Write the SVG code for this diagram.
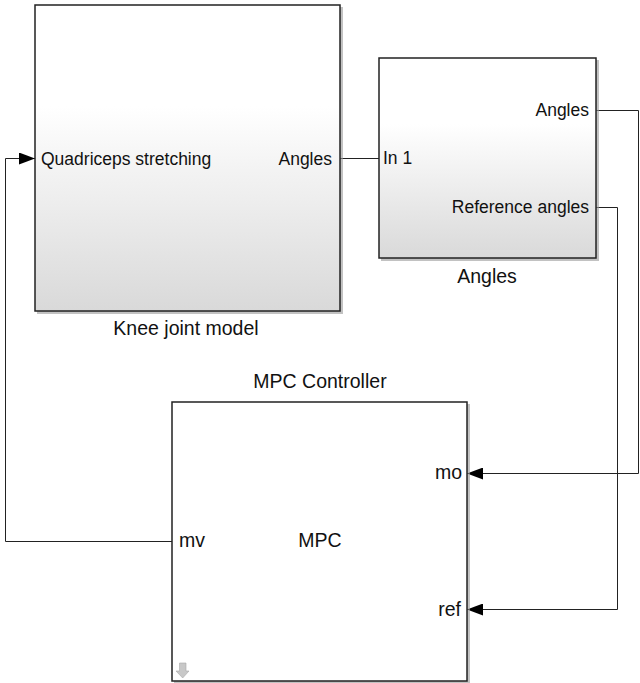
<svg xmlns="http://www.w3.org/2000/svg" width="640" height="683" viewBox="0 0 640 683">
<style>
text{font-family:"Liberation Sans",Arial,sans-serif;fill:#111}
.p{font-size:17.5px}
.q{font-size:19.5px}
.l{font-size:19.5px}
.box{stroke:#222;stroke-width:1.5}
.sh{fill:#9a9a9a;opacity:0.6}
.w{fill:none;stroke:#222;stroke-width:1}
</style>
<defs>
<linearGradient id="g" x1="0" y1="0" x2="0" y2="1">
<stop offset="0" stop-color="#ffffff"/>
<stop offset="0.33" stop-color="#ffffff"/>
<stop offset="1" stop-color="#d9d9d9"/>
</linearGradient>
<marker id="a" viewBox="0 0 16 12" refX="16" refY="6" markerWidth="16" markerHeight="12" markerUnits="userSpaceOnUse" orient="auto">
<path d="M0,0 L16,6 L0,12 Z" fill="#000"/>
</marker>
</defs>
<g id="connectors">
<path class="w" d="M340,158.5 H379"/>
<path class="w" d="M596,110.5 H638.5 V473.5 H467" marker-end="url(#a)"/>
<path class="w" d="M596,207.5 H617.5 V609.5 H467" marker-end="url(#a)"/>
<path class="w" d="M172,541.5 H5.5 V158.5 H35" marker-end="url(#a)"/>
</g>
<g id="knee">
<rect class="sh" x="37" y="7" width="306" height="307"/>
<rect class="box" x="35" y="5" width="305" height="306" fill="url(#g)"/>
<text class="p" x="41" y="165">Quadriceps stretching</text>
<text class="p" x="332" y="165" text-anchor="end">Angles</text>
<text class="l" x="186" y="335" text-anchor="middle">Knee joint model</text>
</g>
<g id="angles">
<rect class="sh" x="381" y="60" width="218" height="201"/>
<rect class="box" x="379" y="58" width="217" height="200" fill="url(#g)"/>
<text class="p" x="589" y="116" text-anchor="end">Angles</text>
<text class="p" x="383" y="164">In 1</text>
<text class="p" x="589" y="213" text-anchor="end">Reference angles</text>
<text class="l" x="487" y="283" text-anchor="middle">Angles</text>
</g>
<g id="mpc">
<rect class="sh" x="174" y="404" width="296" height="280"/>
<rect class="box" x="172" y="402" width="295" height="279" fill="#fff"/>
<text class="l" x="320" y="388" text-anchor="middle">MPC Controller</text>
<text class="q" x="462" y="479" text-anchor="end">mo</text>
<text class="q" x="179" y="547">mv</text>
<text class="q" x="320" y="547" text-anchor="middle">MPC</text>
<text class="q" x="461" y="616" text-anchor="end">ref</text>
<path d="M179.5,663 H186 V671 H189 L182.7,678 L176,671 H179.5 Z" fill="#c8c8c8" stroke="#aaa" stroke-width="0.6"/>
</g>
</svg>
